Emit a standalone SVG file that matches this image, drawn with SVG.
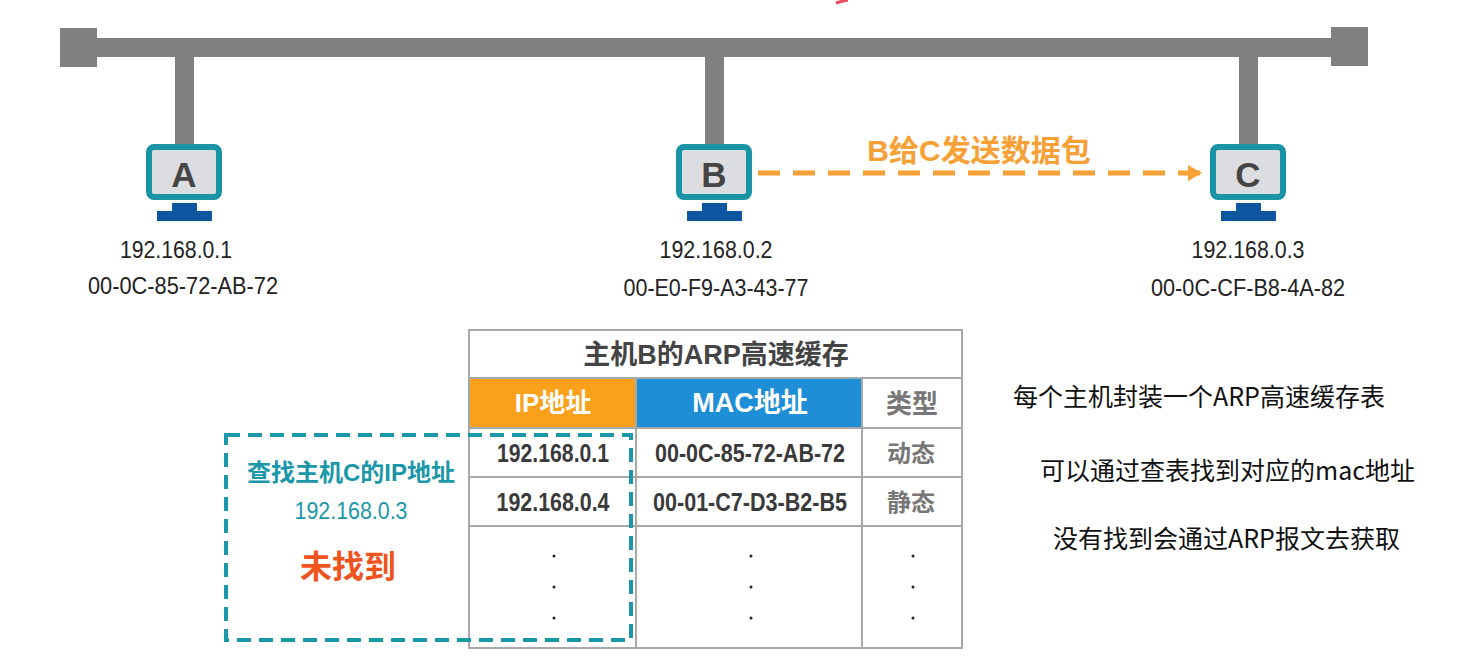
<svg xmlns="http://www.w3.org/2000/svg" xmlns:xlink="http://www.w3.org/1999/xlink" width="1476" height="664" viewBox="0 0 1476 664">
<style>
.bus{fill:#808080}
.lbl{font-family:"Liberation Sans",Arial,sans-serif;font-size:24px;fill:#222;text-anchor:middle}
.mon-letter{font-family:"Liberation Sans",Arial,sans-serif;font-weight:bold;font-size:35px;fill:#454545;text-anchor:middle}
.grid{fill:none;stroke:#a8a8a8;stroke-width:2}
.cell{font-family:"Liberation Sans",sans-serif;font-weight:bold;font-size:25px;fill:#3a3a3a;text-anchor:middle}
.type{font-family:"Noto Sans CJK SC",sans-serif;font-weight:bold;font-size:24px;fill:#777;text-anchor:middle}
.dot{fill:#222}
.note{font-family:"Noto Sans CJK SC",sans-serif;font-size:25px;fill:#111}
</style>
<defs>
<g id="monitor">
<rect x="-35" y="3" width="70" height="50" rx="5" fill="#dcdde0" stroke="#1a93a6" stroke-width="6"/>
<rect x="-12" y="59" width="25" height="10" fill="#0f56a0"/>
<rect x="-27" y="67" width="55" height="10" fill="#0f56a0"/>
</g>
<marker id="arr" markerWidth="14" markerHeight="16" refX="13" refY="8" orient="auto" markerUnits="userSpaceOnUse">
<path d="M0,0 L14,8 L0,16 Z" fill="#f7a035"/>
</marker>
</defs>
<rect width="1476" height="664" fill="#fff"/>
<path d="M836,3 Q842,1 848,0" stroke="#e84a5f" stroke-width="3" fill="none"/>

<g id="bus">
<rect class="bus" x="62" y="38" width="1304" height="19"/>
<rect class="bus" x="60" y="28" width="37" height="39"/>
<rect class="bus" x="1331" y="27" width="37" height="39"/>
<rect class="bus" x="175" y="57" width="19" height="90"/>
<rect class="bus" x="705" y="57" width="19" height="90"/>
<rect class="bus" x="1239" y="57" width="19" height="90"/>
</g>

<g id="hostA">
<use xlink:href="#monitor" href="#monitor" transform="translate(184,144)"/>
<text class="mon-letter" x="184" y="187">A</text>
<text class="lbl" x="176" y="258" textLength="112" lengthAdjust="spacingAndGlyphs">192.168.0.1</text>
<text class="lbl" x="183" y="294" textLength="190" lengthAdjust="spacingAndGlyphs">00-0C-85-72-AB-72</text>
</g>

<g id="hostB">
<use xlink:href="#monitor" href="#monitor" transform="translate(714,144)"/>
<text class="mon-letter" x="714" y="187">B</text>
<text class="lbl" x="716" y="258" textLength="113" lengthAdjust="spacingAndGlyphs">192.168.0.2</text>
<text class="lbl" x="716" y="296" textLength="185" lengthAdjust="spacingAndGlyphs">00-E0-F9-A3-43-77</text>
</g>

<g id="hostC">
<use xlink:href="#monitor" href="#monitor" transform="translate(1248,144)"/>
<text class="mon-letter" x="1248" y="187">C</text>
<text class="lbl" x="1248" y="258" textLength="113" lengthAdjust="spacingAndGlyphs">192.168.0.3</text>
<text class="lbl" x="1248" y="296" textLength="194" lengthAdjust="spacingAndGlyphs">00-0C-CF-B8-4A-82</text>
</g>

<g id="connectors">
<line x1="758" y1="173" x2="1201" y2="173" stroke="#f7a035" stroke-width="5" stroke-dasharray="22,13" marker-end="url(#arr)"/>
<text x="979" y="161" text-anchor="middle" font-family="Liberation Sans,'Noto Sans CJK SC',sans-serif" font-weight="bold" font-size="30" fill="#f7a035">B给C发送数据包</text>
</g>

<g id="arpTable">
<rect x="469" y="330" width="493" height="318" fill="#fff"/>
<rect x="469" y="378" width="167" height="50" fill="#f9a11b"/>
<rect x="636" y="378" width="226" height="50" fill="#1e8fd6"/>
<rect class="grid" x="469" y="330" width="493" height="318"/>
<line class="grid" x1="469" y1="378" x2="962" y2="378"/>
<line class="grid" x1="469" y1="428" x2="962" y2="428"/>
<line class="grid" x1="469" y1="477" x2="962" y2="477"/>
<line class="grid" x1="469" y1="526" x2="962" y2="526"/>
<line class="grid" x1="636" y1="378" x2="636" y2="648"/>
<line class="grid" x1="862" y1="378" x2="862" y2="648"/>
<text x="716" y="364" text-anchor="middle" font-family="Liberation Sans,'Noto Sans CJK SC',sans-serif" font-weight="bold" font-size="27" fill="#444">主机B的ARP高速缓存</text>
<text x="553" y="412" text-anchor="middle" font-family="Liberation Sans,'Noto Sans CJK SC',sans-serif" font-weight="bold" font-size="26" fill="#fff">IP地址</text>
<text x="750" y="412" text-anchor="middle" font-family="Liberation Sans,'Noto Sans CJK SC',sans-serif" font-weight="bold" font-size="27" fill="#fff">MAC地址</text>
<text x="912" y="413" text-anchor="middle" font-family="'Noto Sans CJK SC',sans-serif" font-weight="bold" font-size="26" fill="#777">类型</text>
<text class="cell" x="553" y="462" textLength="112" lengthAdjust="spacingAndGlyphs">192.168.0.1</text>
<text class="cell" x="750" y="462" textLength="190" lengthAdjust="spacingAndGlyphs">00-0C-85-72-AB-72</text>
<text class="type" x="911" y="462">动态</text>
<text class="cell" x="553" y="511" textLength="113" lengthAdjust="spacingAndGlyphs">192.168.0.4</text>
<text class="cell" x="750" y="511" textLength="194" lengthAdjust="spacingAndGlyphs">00-01-C7-D3-B2-B5</text>
<text class="type" x="911" y="511">静态</text>
<circle class="dot" cx="554" cy="556" r="1.5"/><circle class="dot" cx="554" cy="587" r="1.5"/><circle class="dot" cx="554" cy="618" r="1.5"/>
<circle class="dot" cx="751" cy="556" r="1.5"/><circle class="dot" cx="751" cy="587" r="1.5"/><circle class="dot" cx="751" cy="618" r="1.5"/>
<circle class="dot" cx="913" cy="556" r="1.5"/><circle class="dot" cx="913" cy="587" r="1.5"/><circle class="dot" cx="913" cy="618" r="1.5"/>
</g>

<g id="lookupBox">
<rect x="226" y="435" width="405" height="205" fill="none" stroke="#1a97a8" stroke-width="4" stroke-dasharray="14,8"/>
<text x="351" y="481" text-anchor="middle" font-family="Liberation Sans,'Noto Sans CJK SC',sans-serif" font-weight="bold" font-size="24" fill="#1a97a8">查找主机C的IP地址</text>
<text x="351" y="519" text-anchor="middle" font-family="Liberation Sans,sans-serif" font-size="23" fill="#1a97a8" textLength="113" lengthAdjust="spacingAndGlyphs">192.168.0.3</text>
<text x="348" y="578" text-anchor="middle" font-family="'Noto Sans CJK SC',sans-serif" font-weight="bold" font-size="32" fill="#f0541e">未找到</text>
</g>

<g id="notes">
<text class="note" x="1013" y="406">每个主机封装一个ARP高速缓存表</text>
<text class="note" x="1040" y="480">可以通过查表找到对应的mac地址</text>
<text class="note" x="1053" y="548">没有找到会通过ARP报文去获取</text>
</g>
</svg>
